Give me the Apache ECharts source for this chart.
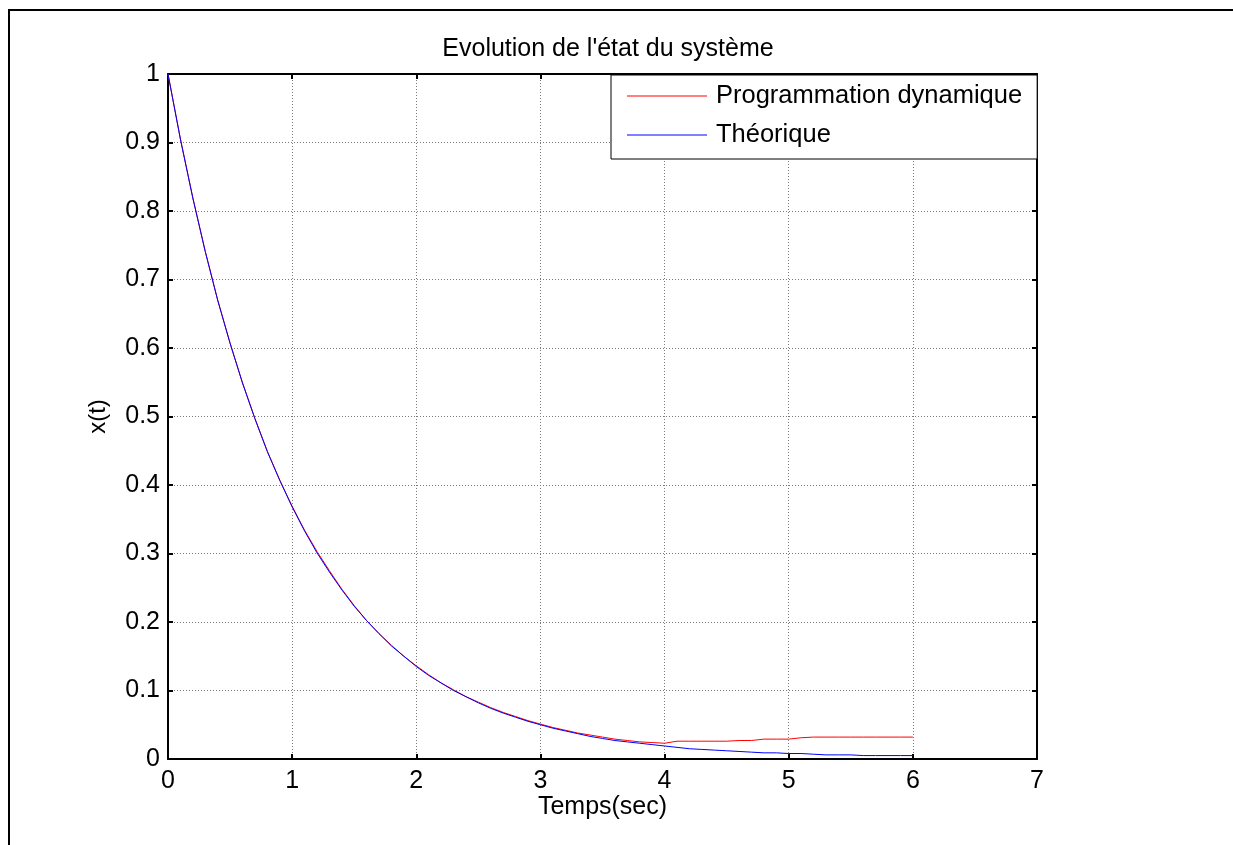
<!DOCTYPE html>
<html>
<head>
<meta charset="utf-8">
<script src="https://cdn.jsdelivr.net/npm/echarts@6/dist/echarts.min.js"></script>
<style>
html,body{margin:0;padding:0;background:#fff;}
#chart{width:1233px;height:845px;}
</style>
</head>
<body>
<div id="chart"></div>
<script>
// ---- data ----
const titleText = "Evolution de l'état du système";
const xName = "Temps(sec)";
const yName = "x(t)";
const seriesNames = ["Programmation dynamique", "Théorique"];
const xTickLabels = ["0","1","2","3","4","5","6","7"];
const yTickLabels = ["0","0.1","0.2","0.3","0.4","0.5","0.6","0.7","0.8","0.9","1"];
const timeValues = [0,0.1,0.2,0.3,0.4,0.5,0.6,0.7,0.8,0.9,1.0,1.1,1.2,1.3,1.4,1.5,1.6,1.7,1.8,1.9,2.0,2.1,2.2,2.3,2.4,2.5,2.6,2.7,2.8,2.9,3.0,3.1,3.2,3.3,3.4,3.5,3.6,3.7,3.8,3.9,4.0,4.1,4.2,4.3,4.4,4.5,4.6,4.7,4.8,4.9,5.0,5.1,5.2,5.3,5.4,5.5,5.6,5.7,5.8,5.9,6.0];
const progDynValues = [1.000,0.905,0.819,0.741,0.670,0.607,0.549,0.497,0.449,0.407,0.369,0.334,0.303,0.275,0.248,0.224,0.202,0.183,0.166,0.150,0.136,0.123,0.111,0.101,0.091,0.083,0.075,0.068,0.062,0.056,0.051,0.046,0.042,0.038,0.035,0.032,0.029,0.027,0.025,0.024,0.023,0.026,0.026,0.026,0.026,0.026,0.027,0.027,0.029,0.029,0.029,0.031,0.032,0.032,0.032,0.032,0.032,0.032,0.032,0.032,0.032];
const theoriqueValues = [1.000,0.905,0.819,0.741,0.670,0.607,0.549,0.497,0.449,0.407,0.368,0.333,0.301,0.273,0.247,0.223,0.202,0.183,0.165,0.150,0.135,0.122,0.111,0.100,0.091,0.082,0.074,0.067,0.061,0.055,0.050,0.045,0.041,0.037,0.033,0.030,0.027,0.025,0.023,0.021,0.019,0.017,0.015,0.014,0.013,0.012,0.011,0.010,0.009,0.009,0.008,0.008,0.007,0.006,0.006,0.006,0.005,0.005,0.005,0.005,0.005];

const font = "'Liberation Sans', Arial, sans-serif";
const pairs = (xs, ys) => xs.map((x, i) => [x, ys[i]]);

const chart = echarts.init(document.getElementById('chart'), null, {renderer: 'canvas'});
const gridStyle = {show: true, lineStyle: {color: '#7a7a7a', type: [1, 2], width: 1}};
chart.setOption({
  backgroundColor: '#ffffff',
  animation: false,
  title: {
    text: titleText, left: 603, top: 32, textAlign: 'center',
    textStyle: {fontFamily: font, fontWeight: 'normal', fontSize: 25, color: '#000'}
  },
  legend: {
    orient: 'vertical', left: 611, top: 75,
    padding: [8, 15, 11, 16], itemGap: 13,
    itemWidth: 80, itemHeight: 1, icon: 'rect',
    borderColor: '#000', borderWidth: 1, backgroundColor: '#fff',
    textStyle: {fontFamily: font, fontSize: 25.5, color: '#000', lineHeight: 26, padding: [0,0,0,4]},
    data: seriesNames
  },
  grid: {left: 168, right: 196, top: 74, bottom: 86, containLabel: false},
  xAxis: [{
    type: 'value', min: 0, max: 7, interval: 1,
    name: xName, nameLocation: 'middle', nameGap: 36, nameMoveOverlap: false,
    nameTextStyle: {fontFamily: font, fontSize: 25, color: '#000'},
    axisLine: {show: true, onZero: false, lineStyle: {color: '#000', width: 2}},
    axisTick: {show: true, inside: true, length: 5, lineStyle: {color: '#000', width: 2}},
    axisLabel: {fontFamily: font, fontSize: 25, color: '#000', margin: 10,
      formatter: v => xTickLabels[Math.round(v)]},
    splitLine: gridStyle
  }, {
    type: 'value', min: 0, max: 7, interval: 1, position: 'top',
    axisLine: {show: true, onZero: false, lineStyle: {color: '#000', width: 2}},
    axisTick: {show: true, inside: true, length: 5, lineStyle: {color: '#000', width: 2}},
    axisLabel: {show: false}, splitLine: {show: false}
  }],
  yAxis: [{
    type: 'value', min: 0, max: 1, interval: 0.1,
    name: yName, nameLocation: 'middle', nameGap: 58, nameRotate: 90, nameMoveOverlap: false,
    nameTextStyle: {fontFamily: font, fontSize: 24, color: '#000'},
    axisLine: {show: true, onZero: false, lineStyle: {color: '#000', width: 2}},
    axisTick: {show: true, inside: true, length: 5, lineStyle: {color: '#000', width: 2}},
    axisLabel: {fontFamily: font, fontSize: 25, color: '#000', margin: 8,
      formatter: v => yTickLabels[Math.round(v * 10)]},
    splitLine: gridStyle
  }, {
    type: 'value', min: 0, max: 1, interval: 0.1, position: 'right',
    axisLine: {show: true, onZero: false, lineStyle: {color: '#000', width: 2}},
    axisTick: {show: true, inside: true, length: 5, lineStyle: {color: '#000', width: 2}},
    axisLabel: {show: false}, splitLine: {show: false}
  }],
  series: [{
    name: seriesNames[0], type: 'line', showSymbol: false, symbol: 'none',
    data: pairs(timeValues, progDynValues),
    lineStyle: {color: '#ff0000', width: 1}, itemStyle: {color: '#ff0000'}, z: 2
  }, {
    name: seriesNames[1], type: 'line', showSymbol: false, symbol: 'none',
    data: pairs(timeValues, theoriqueValues),
    lineStyle: {color: '#0000ff', width: 1}, itemStyle: {color: '#0000ff'}, z: 3
  }],
  graphic: [
    {type: 'line', shape: {x1: 8, y1: 10, x2: 1233, y2: 10}, style: {stroke: '#000', lineWidth: 2}, silent: true},
    {type: 'line', shape: {x1: 9, y1: 10, x2: 9, y2: 845}, style: {stroke: '#000', lineWidth: 2}, silent: true}
  ]
});
</script>
</body>
</html>
